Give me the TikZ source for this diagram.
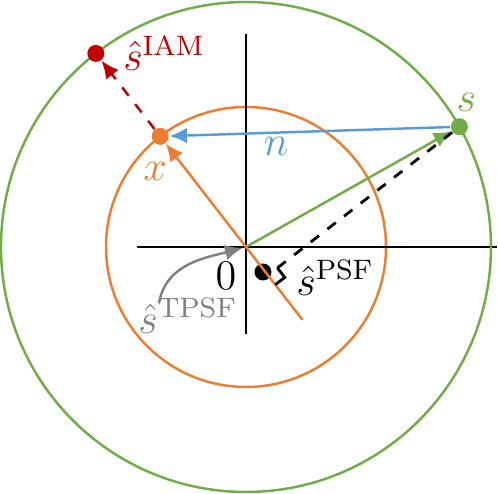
\documentclass[tikz,border=0pt]{standalone}
\usepackage{amsmath}
\usetikzlibrary{positioning,calc,arrows.meta}
\definecolor{sgreen}{HTML}{70AD47}
\definecolor{xorange}{HTML}{ED7D31}
\definecolor{nblue}{HTML}{5B9BD5}
\definecolor{iamred}{HTML}{C00000}

\begin{document}
\begin{tikzpicture}[
  dot/.style={circle, fill, inner sep=0pt, minimum size=0.17cm},
  vec/.style={line width=0.7pt, -{Latex[length=5pt,width=4.5pt]}},
  lbl/.style={font=\large, inner sep=1pt},
]
  % rayons des deux cercles
  \def\rs{2.45}
  \def\rx{1.4}
  \useasboundingbox (-2.46,-2.47) rectangle (2.52,2.47);
  \coordinate (o) at (0,0);

  % cercle de x
  \draw[xorange, line width=0.7pt] (o) circle (\rx);

  % axes
  \draw[line width=0.8pt] (-1.09,0) -- (2.51,0);
  \draw[line width=0.8pt] (0,-0.87) -- (0,2.13);

  % cercle de s
  \draw[sgreen, line width=0.7pt] (o) circle (\rs);

  % points
  \node[dot, sgreen] (s) at (29.4:\rs) {};
  \node[dot, xorange] (x) at (127.8:\rx) {};
  \node[dot, iamred] (iam) at (127.8:\rs) {};
  \coordinate (xend) at (307.8:0.92);
  \coordinate (psf) at ($(o)!(s)!(x)$);
  \node[dot, black] (psfdot) at (0.17,-0.25) {};

  % vecteurs
  \draw[vec, sgreen] (o) -- (s);
  \draw[vec, xorange] (xend) -- (x);
  \draw[vec, nblue] (s) -- node[lbl, pos=0.62, below] (nlbl) {$n$} (x);
  \draw[vec, iamred, dashed] (x) -- (iam);

  % angle droit
  \coordinate (ra1) at ($(psf)!1.2mm!(s)$);
  \coordinate (ra2) at ($(psf)!1.2mm!(xend)$);
  \draw[line width=0.8pt] (ra1) -- ($(ra1)+(ra2)-(psf)$) -- (ra2);
  \draw[line width=0.8pt, dashed] (ra1) -- (s);

  % etiquettes
  \node[lbl, sgreen, above=0.02 of s, xshift=2pt] (slbl) {$s$};
  \node[lbl, xorange, below=0.13 of x, xshift=-0.05cm] (xlbl) {$x$};
  \node[lbl, iamred, right=0.14 of iam] (iamlbl) {$\hat{s}^{\mathrm{IAM}}$};
  \node[lbl, right=0.2 of psfdot, yshift=-0.06cm] (psflbl) {$\hat{s}^{\mathrm{PSF}}$};
  \node[lbl, inner sep=0pt, below left=0.15 and 0.09 of o] (zero) {$0$};
  \node[lbl, gray] (tpsf) at (-0.58,-0.69) {$\hat{s}^{\mathrm{TPSF}}$};
  \coordinate (tstart) at (-0.87,-0.56);
  \draw[vec, gray, shorten >=1pt] (tstart) to[out=80, in=195] (o);
\end{tikzpicture}
\end{document}
